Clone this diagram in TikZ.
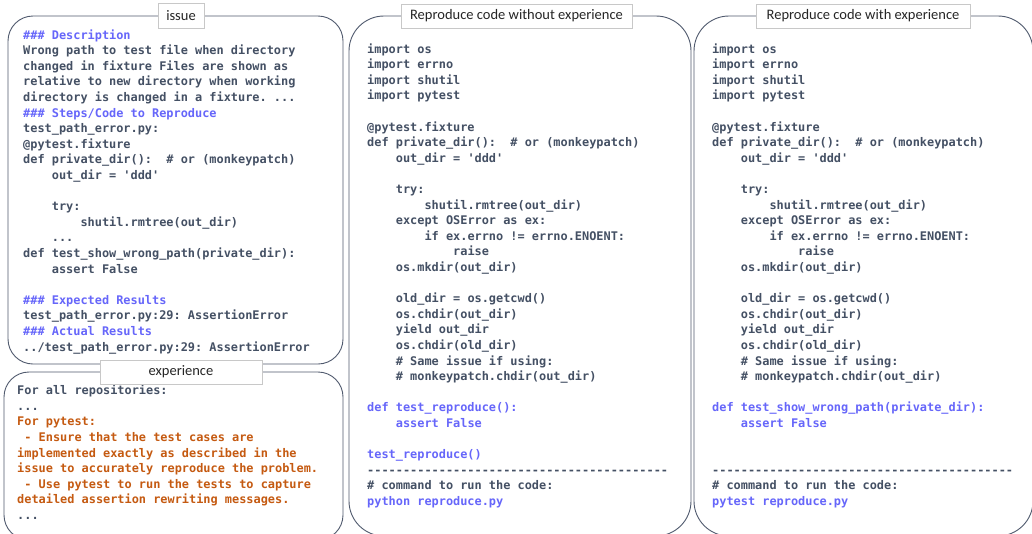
\documentclass[tikz,border=0pt]{standalone}
\usepackage{fontspec}
\setmonofont{DejaVu Sans Mono}
\newfontfamily\tabfont{Carlito}
\definecolor{codegray}{RGB}{68,80,100}
\definecolor{headblue}{RGB}{102,102,250}
\definecolor{exporange}{RGB}{197,90,17}
\definecolor{boxline}{RGB}{80,90,110}
\definecolor{tabline}{RGB}{200,200,200}
\newcommand{\ind}{\hphantom{0000}}
\newcommand{\hd}[1]{\textcolor{headblue}{#1}}
\newcommand{\ex}[1]{\textcolor{exporange}{#1}}

\begin{document}
\begin{tikzpicture}[x=1pt,y=-1pt,
  roundbox/.style={draw=boxline, line width=0.9pt, rounded corners=#1},
  tabbox/.style={draw=tabline, fill=white, line width=0.8pt, inner sep=0pt,
    font=\tabfont\fontsize{14.5}{16}\selectfont, text=black!85},
  codetext/.style={anchor=base west, inner sep=0pt, align=left, text=codegray,
    font=\ttfamily\bfseries\fontsize{11.9}{15.6}\selectfont}]
  \useasboundingbox (0,0) rectangle (1032,533);
  \clip (0,0) rectangle (1032,533);
  \fill[white] (0,0) rectangle (1032,533);
  % frames
  \draw[roundbox=25] (8,16) rectangle (343,364);
  \draw[roundbox=25] (4,372) rectangle (343,540);
  \draw[roundbox=35] (349,16) rectangle (691,536);
  \draw[roundbox=35] (694,16) rectangle (1033,536);
  % code blocks, placed by the baseline of their last line
  \node[codetext] (issue-text) at (23,351) {%
    \hd{\#\#\# Description}\\
    Wrong path to test file when directory\\
    changed in fixture Files are shown as\\
    relative to new directory when working\\
    directory is changed in a fixture. ...\\
    \hd{\#\#\# Steps/Code to Reproduce}\\
    test\_path\_error.py:\\
    @pytest.fixture\\
    def private\_dir():~ \# or (monkeypatch)\\
    \ind out\_dir = 'ddd'\\
    ~\\
    \ind try:\\
    \ind\ind shutil.rmtree(out\_dir)\\
    \ind ...\\
    def test\_show\_wrong\_path(private\_dir):\\
    \ind assert False\\
    ~\\
    \hd{\#\#\# Expected Results}\\
    test\_path\_error.py:29: AssertionError\\
    \hd{\#\#\# Actual Results}\\
    ../test\_path\_error.py:29: AssertionError};
  \node[codetext] (exp-text) at (17,519.5) {%
    For all repositories:\\
    ...\\
    \ex{For pytest:}\\
    \ex{\hphantom{0}- Ensure that the test cases are}\\
    \ex{implemented exactly as described in the}\\
    \ex{issue to accurately reproduce the problem.}\\
    \ex{\hphantom{0}- Use pytest to run the tests to capture}\\
    \ex{detailed assertion rewriting messages.}\\
    ...};
  \node[codetext] (without-text) at (367,505.5) {%
    import os\\
    import errno\\
    import shutil\\
    import pytest\\
    ~\\
    @pytest.fixture\\
    def private\_dir():~ \# or (monkeypatch)\\
    \ind out\_dir = 'ddd'\\
    ~\\
    \ind try:\\
    \ind\ind shutil.rmtree(out\_dir)\\
    \ind except OSError as ex:\\
    \ind\ind if ex.errno != errno.ENOENT:\\
    \ind\ind\ind raise\\
    \ind os.mkdir(out\_dir)\\
    ~\\
    \ind old\_dir = os.getcwd()\\
    \ind os.chdir(out\_dir)\\
    \ind yield out\_dir\\
    \ind os.chdir(old\_dir)\\
    \ind \# Same issue if using:\\
    \ind \# monkeypatch.chdir(out\_dir)\\
    ~\\
    \hd{def test\_reproduce():}\\
    \hd{\ind assert False}\\
    ~\\
    \hd{test\_reproduce()}\\
    ------------------------------------------\\
    \# command to run the code:\\
    \hd{python reproduce.py}};
  \node[codetext] (with-text) at (712,505.5) {%
    import os\\
    import errno\\
    import shutil\\
    import pytest\\
    ~\\
    @pytest.fixture\\
    def private\_dir():~ \# or (monkeypatch)\\
    \ind out\_dir = 'ddd'\\
    ~\\
    \ind try:\\
    \ind\ind shutil.rmtree(out\_dir)\\
    \ind except OSError as ex:\\
    \ind\ind if ex.errno != errno.ENOENT:\\
    \ind\ind\ind raise\\
    \ind os.mkdir(out\_dir)\\
    ~\\
    \ind old\_dir = os.getcwd()\\
    \ind os.chdir(out\_dir)\\
    \ind yield out\_dir\\
    \ind os.chdir(old\_dir)\\
    \ind \# Same issue if using:\\
    \ind \# monkeypatch.chdir(out\_dir)\\
    ~\\
    \hd{def test\_show\_wrong\_path(private\_dir):}\\
    \hd{\ind assert False}\\
    ~\\
    ~\\
    ------------------------------------------\\
    \# command to run the code:\\
    \hd{pytest reproduce.py}};
  % tabs
  \node[tabbox, minimum width=46pt, minimum height=25pt] (issue-tab) at (181,15.5) {issue};
  \node[tabbox, minimum width=162pt, minimum height=24pt] (exp-tab) at (181,372) {experience};
  \node[tabbox, minimum width=231pt, minimum height=24pt] (without-tab) at (516.5,16) {Reproduce code without experience};
  \node[tabbox, minimum width=214pt, minimum height=24pt] (with-tab) at (863,16) {Reproduce code with experience};
\end{tikzpicture}
\end{document}
